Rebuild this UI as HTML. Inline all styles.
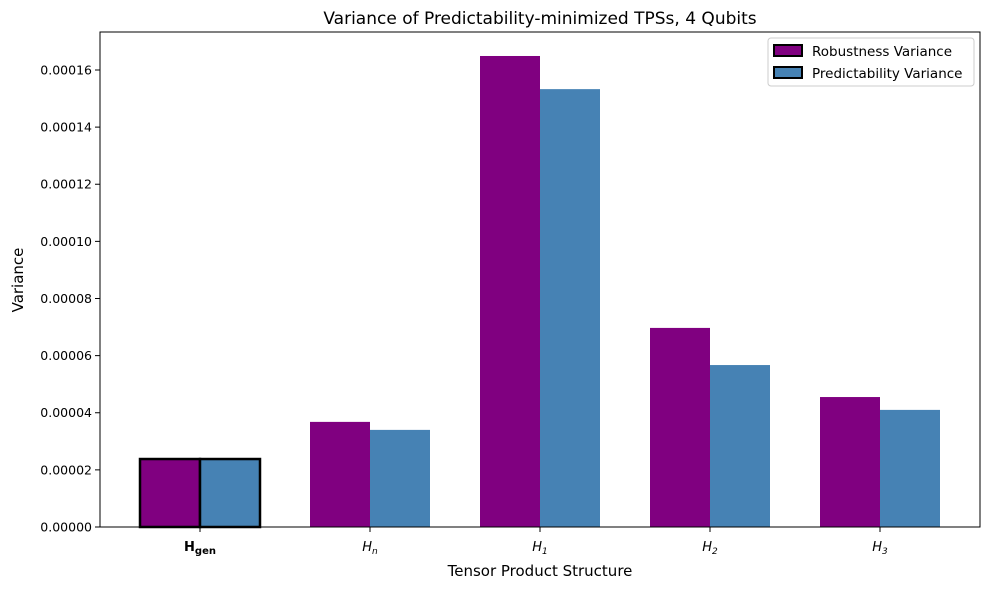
<!DOCTYPE html>
<html><head><meta charset="utf-8"><style>
body{margin:0;background:#fff;font-family:"Liberation Sans","DejaVu Sans",sans-serif}
</style></head><body>
<svg id="chart" width="989" height="589" xmlns="http://www.w3.org/2000/svg" font-family="DejaVu Sans, Liberation Sans, sans-serif">
<text x="540" y="24" text-anchor="middle" font-size="17">Variance of Predictability-minimized TPSs, 4 Qubits</text>
<text x="540" y="576" text-anchor="middle" font-size="15">Tensor Product Structure</text>
<text transform="translate(23,280) rotate(-90)" text-anchor="middle" font-size="15">Variance</text>
<g id="bars"></g><g id="ticks"></g>
<rect x="100" y="32" width="880" height="495" fill="none" stroke="#000" stroke-width="1"/>
<g>
<rect x="768" y="38" width="206" height="48" fill="#fff" stroke="#ccc" rx="3"/>
<rect x="774" y="45" width="28" height="11" fill="#800080" stroke="#000" stroke-width="2"/>
<text x="812" y="56" font-size="13.5">Robustness Variance</text>
<rect x="774" y="67" width="28" height="11" fill="#4682b4" stroke="#000" stroke-width="2"/>
<text x="812" y="78" font-size="13.5">Predictability Variance</text>
</g>
</svg>
<script>
const categories=["gen","n","1","2","3"];
const robustness=[0.0000238,0.0000368,0.0001649,0.0000697,0.0000455];
const predictability=[0.0000238,0.0000340,0.0001533,0.0000567,0.0000410];
const yTicks=[0,0.00002,0.00004,0.00006,0.00008,0.0001,0.00012,0.00014,0.00016];
const yTickLabels=["0.00000","0.00002","0.00004","0.00006","0.00008","0.00010","0.00012","0.00014","0.00016"];
const NS="http://www.w3.org/2000/svg";
const yMax=0.0001733;
function y(v){return 527-v/yMax*495;}
function x(i){return 200+i*170;}
const bars=document.getElementById('bars'),ticks=document.getElementById('ticks');
function mk(tag,attrs,parent){const e=document.createElementNS(NS,tag);for(const k in attrs)e.setAttribute(k,attrs[k]);parent.appendChild(e);return e;}
categories.forEach((c,i)=>{
  const hl=i===0;
  const r=mk('rect',{x:x(i)-60,y:y(robustness[i]),width:60,height:527-y(robustness[i]),fill:'#800080',stroke:hl?'#000':'none','stroke-width':hl?2.5:0},bars);
  
  
  const p=mk('rect',{x:x(i),y:y(predictability[i]),width:60,height:527-y(predictability[i]),fill:'#4682b4',stroke:hl?'#000':'none','stroke-width':hl?2.5:0},bars);
  
  
  mk('line',{x1:x(i),x2:x(i),y1:527,y2:532,stroke:'#000'},ticks);
  const t=mk('text',{x:x(i),y:551,'text-anchor':'middle','font-size':13},ticks);
  
  
  if(hl){t.setAttribute('font-weight','bold');t.innerHTML='H<tspan font-size="10" dy="3">gen</tspan>';}
  else{t.setAttribute('font-style','italic');t.innerHTML='H<tspan font-size="9" dy="3">'+c+'</tspan>';}
});
yTicks.forEach((v,i)=>{
  mk('line',{x1:95,x2:100,y1:y(v),y2:y(v),stroke:'#000'},ticks);
  const t=mk('text',{x:92,y:y(v)+4.5,'text-anchor':'end','font-size':12.5},ticks);
  
  
  t.textContent=yTickLabels[i];
});
</script>
</body></html>
